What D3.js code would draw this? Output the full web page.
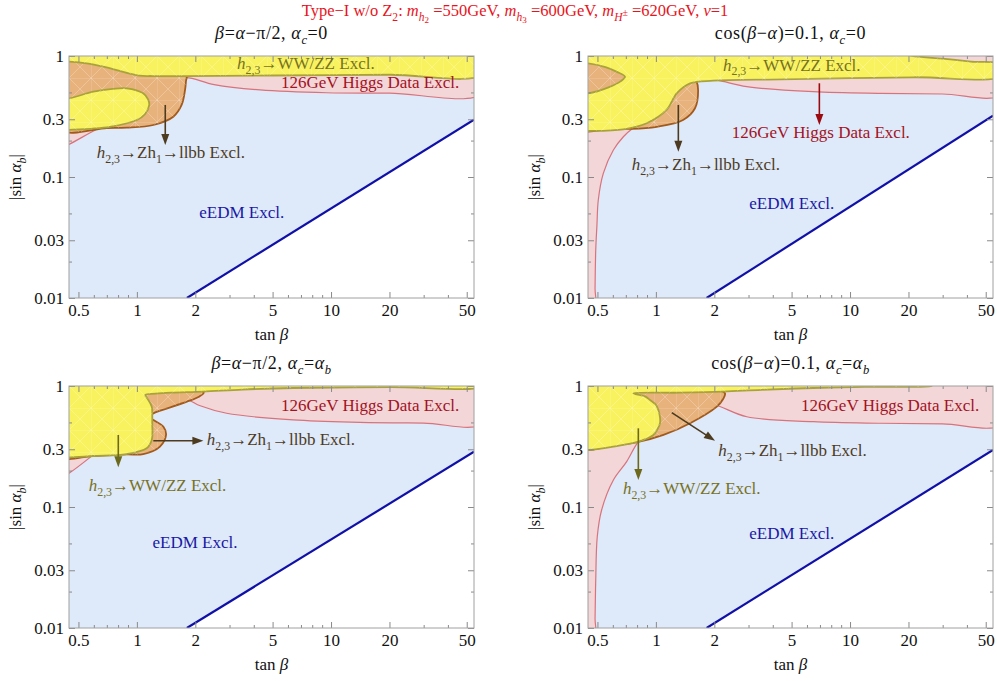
<!DOCTYPE html>
<html>
<head>
<meta charset="utf-8">
<script src="https://cdn.jsdelivr.net/npm/d3@7"></script>
<style>
body { margin: 0; background: #fff; }
text { font-family: "Liberation Serif", "Times New Roman", serif; }
</style>
</head>
<body>
<svg width="997" height="681"></svg>
<script>
// axes (tan beta on x, |sin alpha_b| on y, both log)
var xDomain = [0.447, 54.5];
var yDomain = [0.01, 1];
var xTicks = [0.5, 1, 2, 5, 10, 20, 50];
var xMinor = [0.6, 0.7, 0.8, 0.9, 3, 4, 6, 7, 8, 9, 30, 40];
var yTicks = [0.01, 0.03, 0.1, 0.3, 1];
var yTickLabels = ["0.01", "0.03", "0.1", "0.3", "1"];
var yMinor = [0.02, 0.05, 0.2, 0.5];

// region boundaries, [tan beta, |sin alpha_b|]
// panel 1: beta = alpha - pi/2, alpha_c = 0
var eedm1 = [[1.81, 0.01], [54.5, 0.298]];
var pink1 = [[0.4,0.172],[0.447,0.186],[0.621,0.248],[0.9,0.33],[1.3,0.45],[1.6,0.6],[1.77,0.662],[2.5,0.58],[4.31,0.524],[9.5,0.497],[20,0.494],[60,0.492],[60,1.1],[0.4,1.1]];
var orange1 = [[0.4,0.248],[0.7,0.254],[0.886,0.256],[1.216,0.269],[1.54,0.315],[1.70,0.394],[1.77,0.524],[1.79,0.62],[1.8,0.72],[1.3,0.85],[0.4,0.97]];
var yellowBand1 = [[0.4,1.1],[60,1.1],[60,0.706],[20,0.7],[5,0.69],[1.8,0.683],[1.2,0.683],[1.03,0.688],[0.84,0.742],[0.672,0.816],[0.55,0.87],[0.447,0.897],[0.4,0.9]];
var yellowBlob1 = [[0.4,0.445],[0.447,0.447],[0.596,0.507],[0.75,0.535],[0.886,0.541],[1.077,0.492],[1.14,0.44],[1.158,0.394],[1.1,0.33],[1.0,0.296],[0.726,0.26],[0.447,0.245],[0.4,0.244]];

// panel 2: cos(beta - alpha) = 0.1, alpha_c = 0
var eedm2 = [[1.825, 0.01], [54.5, 0.321]];
var pink2 = [[0.4,0.008],[0.485,0.008],[0.486,0.012],[0.49,0.025],[0.497,0.04],[0.505,0.0645],[0.536,0.107],[0.604,0.167],[0.68,0.215],[0.75,0.248],[1.2,0.38],[1.5,0.55],[1.7,0.66],[2.1,0.628],[2.94,0.558],[6.47,0.507],[14.3,0.491],[30,0.485],[60,0.482],[60,1.1],[0.4,1.1]];
var orange2 = [[0.4,0.92],[0.4,0.25],[0.6,0.252],[0.75,0.25],[1.01,0.26],[1.38,0.296],[1.59,0.37],[1.65,0.524],[1.62,0.613],[1.5,0.7],[0.8,0.88]];
var yellow2 = [[0.4,1.1],[15,1.1],[21.2,1.0],[30,0.95],[42,0.9],[60,0.85],[60,0.684],[21.2,0.667],[4.36,0.641],[1.98,0.625],[1.5,0.594],[1.28,0.491],[1.135,0.358],[0.897,0.278],[0.68,0.248],[0.447,0.24],[0.4,0.24],[0.4,0.491],[0.447,0.491],[0.57,0.55],[0.66,0.62],[0.693,0.675],[0.63,0.74],[0.55,0.81],[0.447,0.87],[0.4,0.87]];

// panel 3: beta = alpha - pi/2, alpha_c = alpha_b
var eedm3 = [[1.81, 0.01], [54.5, 0.286]];
var pink3 = [[0.4,0.172],[0.447,0.19],[0.574,0.257],[0.8,0.4],[1.05,0.6],[1.15,0.7],[1.4,0.71],[1.81,0.77],[2.1,0.69],[2.9,0.595],[6.39,0.524],[14.1,0.501],[30,0.494],[60,0.49],[60,1.1],[0.4,1.1]];
var orange3 = [[0.4,0.262],[0.6,0.265],[0.886,0.272],[1.078,0.274],[1.315,0.316],[1.413,0.394],[1.37,0.461],[1.216,0.524],[1.15,0.56],[1.216,0.594],[1.32,0.625],[1.81,0.742],[2.1,0.82],[2.21,0.88],[2.0,0.94],[1.2,0.95],[0.4,0.95]];
var yellow3 = [[0.4,1.1],[60,1.1],[60,0.995],[20,0.98],[6.39,0.963],[3.5,0.935],[2.2,0.9],[1.5,0.882],[1.25,0.865],[1.105,0.843],[1.131,0.791],[1.193,0.675],[1.2,0.57],[1.2,0.491],[1.193,0.358],[1.123,0.306],[0.886,0.274],[0.596,0.264],[0.447,0.257],[0.4,0.257]];

// panel 4: cos(beta - alpha) = 0.1, alpha_c = alpha_b
var eedm4 = [[1.825, 0.01], [54.5, 0.296]];
var pink4 = [[0.4,0.008],[0.485,0.008],[0.486,0.012],[0.49,0.025],[0.499,0.057],[0.525,0.094],[0.604,0.167],[0.707,0.237],[0.8,0.336],[0.9,0.42],[1.2,0.55],[1.6,0.72],[2.0,0.7],[2.94,0.557],[6.47,0.507],[14.3,0.492],[30,0.486],[60,0.482],[60,1.1],[0.4,1.1]];
var orange4 = [[0.4,0.31],[0.6,0.322],[0.812,0.345],[1.094,0.394],[1.5,0.492],[2.06,0.675],[2.22,0.78],[2.27,0.87],[2.1,0.93],[0.9,0.93],[0.4,0.93]];
var yellow4 = [[0.4,1.1],[20,1.1],[26.4,1.0],[12,0.985],[6.47,0.963],[3.5,0.93],[2.22,0.898],[1.33,0.88],[0.765,0.87],[0.88,0.82],[0.933,0.766],[1.0,0.7],[1.03,0.633],[1.05,0.55],[1.05,0.492],[1.02,0.44],[0.971,0.394],[0.812,0.347],[0.604,0.316],[0.447,0.296],[0.4,0.294]];

// text pieces: [string, style]  style: i = italic, s = sub, ss = sub-sub, su = sup in sub
var mainTitle = [["Type\u2212I w/o Z",""],["2","s"],[": ",""],["m","i"],["h","si"],["2","ss"],[" =550GeV, ",""],["m","i"],["h","si"],["3","ss"],[" =600GeV, ",""],["m","i"],["H","si"],["\u00b1","su"],[" =620GeV, ",""],["\u03bd","i"],["=1",""]];
var title1 = [["\u03b2","i"],["=",""],["\u03b1","i"],["\u2212\u03c0/2, ",""],["\u03b1","i"],["c","si"],["=0",""]];
var title2 = [["cos(",""],["\u03b2","i"],["\u2212",""],["\u03b1","i"],[")=0.1, ",""],["\u03b1","i"],["c","si"],["=0",""]];
var title3 = [["\u03b2","i"],["=",""],["\u03b1","i"],["\u2212\u03c0/2, ",""],["\u03b1","i"],["c","si"],["=",""],["\u03b1","i"],["b","si"]];
var title4 = [["cos(",""],["\u03b2","i"],["\u2212",""],["\u03b1","i"],[")=0.1, ",""],["\u03b1","i"],["c","si"],["=",""],["\u03b1","i"],["b","si"]];
var xTitle = [["tan ",""],["\u03b2","i"]];
var yTitle = [["|sin ",""],["\u03b1","i"],["b","si"],["|",""]];
var wwText = [["h","i"],["2,3","s"],["\u2192WW/ZZ Excl.",""]];
var zhText = [["h","i"],["2,3","s"],["\u2192Zh",""],["1","s"],["\u2192llbb Excl.",""]];
var higgsText = [["126GeV Higgs Data Excl.",""]];
var eedmText = [["eEDM Excl.",""]];

var cBlue = "#dee9f9", cLine = "#1010a8", cEdmText = "#1818a4";
var cPink = "#f3d6d8", cPinkEdge = "#d8737b", cHiggsText = "#a3121f", cHiggsArrow = "#9a0a0f";
var cYellow = "#f8f25e", cYellowEdge = "#a9a23a", cWWText = "#77721f", cWWArrow = "#6c681c";
var cOrange = "#e7b27c", cOrangeEdge = "#a25a1c", cZhText = "#4d3b1f", cZhArrow = "#4d3b1f";

// annotations, positioned in data coordinates (baseline of text)
var labels1 = [
  {parts: wwText, t: 7.42, s: 0.776, color: cWWText},
  {parts: higgsText, t: 15.9, s: 0.541, color: cHiggsText},
  {parts: zhText, t: 1.496, s: 0.143, color: cZhText},
  {parts: eedmText, t: 3.47, s: 0.0456, color: cEdmText}
];
var arrows1 = [{from: [1.40, 0.394], to: [1.40, 0.184], color: cZhArrow}];
var labels2 = [
  {parts: wwText, t: 5.01, s: 0.756, color: cWWText},
  {parts: higgsText, t: 7.07, s: 0.209, color: cHiggsText},
  {parts: zhText, t: 1.808, s: 0.114, color: cZhText},
  {parts: eedmText, t: 5.01, s: 0.0541, color: cEdmText}
];
var arrows2 = [
  {from: [6.95, 0.595], to: [6.95, 0.269], color: cHiggsArrow},
  {from: [1.305, 0.394], to: [1.305, 0.162], color: cZhArrow}
];
var labels3 = [
  {parts: higgsText, t: 15.9, s: 0.625, color: cHiggsText},
  {parts: zhText, t: 2.29, s: 0.3253, color: cZhText, anchor: "start"},
  {parts: wwText, t: 1.277, s: 0.1357, color: cWWText},
  {parts: eedmText, t: 1.992, s: 0.0461, color: cEdmText}
];
var arrows3 = [
  {from: [1.215, 0.353], to: [2.2, 0.353], color: cZhArrow},
  {from: [0.802, 0.394], to: [0.802, 0.213], color: cWWArrow}
];
var labels4 = [
  {parts: higgsText, t: 16.1, s: 0.625, color: cHiggsText},
  {parts: zhText, t: 2.097, s: 0.264, color: cZhText, anchor: "start"},
  {parts: wwText, t: 1.53, s: 0.128, color: cWWText},
  {parts: eedmText, t: 5.01, s: 0.0541, color: cEdmText}
];
var arrows4 = [
  {from: [1.207, 0.602], to: [2.016, 0.353], color: cZhArrow},
  {from: [0.812, 0.447], to: [0.812, 0.167], color: cWWArrow}
];

var panels = [
  {x0: 69, y0: 56, title: title1, eedm: eedm1, pink: pink1, orange: orange1, yellow: [yellowBand1, yellowBlob1], labels: labels1, arrows: arrows1},
  {x0: 588, y0: 56, title: title2, eedm: eedm2, pink: pink2, orange: orange2, yellow: [yellow2], labels: labels2, arrows: arrows2},
  {x0: 69, y0: 386, title: title3, eedm: eedm3, pink: pink3, orange: orange3, yellow: [yellow3], labels: labels3, arrows: arrows3},
  {x0: 588, y0: 386, title: title4, eedm: eedm4, pink: pink4, orange: orange4, yellow: [yellow4], labels: labels4, arrows: arrows4}
];

var W = 405, H = 242;
var svg = d3.select("svg");
var defs = svg.append("defs");

// faint triangulation mesh seen inside the filled regions
var pat = defs.append("pattern").attr("id", "mesh")
  .attr("patternUnits", "userSpaceOnUse").attr("width", 22).attr("height", 22);
pat.append("path")
  .attr("d", "M0,0H22M0,0V22M0,0L22,22M22,0L0,22")
  .attr("stroke", "#fff").attr("stroke-opacity", 0.3).attr("stroke-width", 0.8);

function rich(sel, parts, fs) {
  var off = {"": 0, s: 0.28, ss: 0.45, su: 0.0};
  var size = {"": 1, s: 0.7, ss: 0.55, su: 0.6};
  var cur = 0;
  parts.forEach(function(p) {
    var lv = p[1].replace("i", "");
    var o = off[lv] * fs;
    sel.append("tspan")
      .attr("dy", o - cur)
      .attr("font-size", size[lv] * fs)
      .attr("font-style", p[1].indexOf("i") >= 0 ? "italic" : null)
      .text(p[0]);
    cur = o;
  });
  return sel;
}

rich(svg.append("text").attr("x", 515).attr("y", 16).attr("text-anchor", "middle")
  .attr("font-size", 16.5).attr("fill", "#e8141c"), mainTitle, 16.5);

panels.forEach(function(p, i) {
  var x = d3.scaleLog().domain(xDomain).range([0, W]);
  var y = d3.scaleLog().domain(yDomain).range([H, 0]);
  var g = svg.append("g").attr("transform", "translate(" + p.x0 + "," + p.y0 + ")");

  defs.append("clipPath").attr("id", "clip" + i)
    .append("rect").attr("width", W).attr("height", H);
  var plot = g.append("g").attr("clip-path", "url(#clip" + i + ")");

  var smooth = d3.line().x(function(d) { return x(d[0]); }).y(function(d) { return y(d[1]); })
    .curve(d3.curveCatmullRomClosed.alpha(0.5));
  var straight = d3.line().x(function(d) { return x(d[0]); }).y(function(d) { return y(d[1]); });

  // eEDM excluded: everything above the eEDM line
  var blue = [[xDomain[0], yDomain[0]]].concat(p.eedm, [[xDomain[1], yDomain[1]], [xDomain[0], yDomain[1]]]);
  plot.append("path").attr("d", straight(blue) + "Z").attr("fill", cBlue);

  plot.append("path").attr("d", smooth(p.pink))
    .attr("fill", cPink).attr("stroke", cPinkEdge).attr("stroke-width", 1.2);

  plot.append("path").attr("d", smooth(p.orange))
    .attr("fill", cOrange).attr("stroke", cOrangeEdge).attr("stroke-width", 1.8);
  plot.append("path").attr("d", smooth(p.orange)).attr("fill", "url(#mesh)");

  p.yellow.forEach(function(r) {
    plot.append("path").attr("d", smooth(r))
      .attr("fill", cYellow).attr("stroke", cYellowEdge).attr("stroke-width", 1.8);
    plot.append("path").attr("d", smooth(r)).attr("fill", "url(#mesh)");
  });

  plot.append("path").attr("d", straight(p.eedm))
    .attr("fill", "none").attr("stroke", cLine).attr("stroke-width", 2.2);

  // frame ticks on all four sides
  function style(a) {
    a.select(".domain").remove();
    a.selectAll("line").attr("stroke", "#8a8a8a");
    a.attr("font-size", 17);
    a.selectAll("text").attr("fill", "#111");
  }
  g.append("g").attr("transform", "translate(0," + H + ")")
    .call(d3.axisBottom(x).tickValues(xTicks).tickFormat(d3.format("")).tickSize(-6).tickPadding(6)).call(style);
  g.append("g").attr("transform", "translate(0," + H + ")")
    .call(d3.axisBottom(x).tickValues(xMinor).tickFormat("").tickSize(-3)).call(style);
  g.append("g").call(d3.axisTop(x).tickValues(xTicks).tickFormat("").tickSize(-6)).call(style);
  g.append("g").call(d3.axisTop(x).tickValues(xMinor).tickFormat("").tickSize(-3)).call(style);
  g.append("g")
    .call(d3.axisLeft(y).tickValues(yTicks).tickFormat(function(d, k) { return yTickLabels[k]; }).tickSize(-6).tickPadding(5)).call(style);
  g.append("g").call(d3.axisLeft(y).tickValues(yMinor).tickFormat("").tickSize(-3)).call(style);
  g.append("g").attr("transform", "translate(" + W + ",0)")
    .call(d3.axisRight(y).tickValues(yTicks).tickFormat("").tickSize(-6)).call(style);
  g.append("g").attr("transform", "translate(" + W + ",0)")
    .call(d3.axisRight(y).tickValues(yMinor).tickFormat("").tickSize(-3)).call(style);

  g.append("rect").attr("width", W).attr("height", H)
    .attr("fill", "none").attr("stroke", "#a0a0a0").attr("stroke-width", 1);

  rich(g.append("text").attr("x", W / 2).attr("y", -17).attr("text-anchor", "middle")
    .attr("font-size", 18).attr("letter-spacing", 0.6).attr("fill", "#111"), p.title, 18);
  rich(g.append("text").attr("x", W / 2).attr("y", H + 42).attr("text-anchor", "middle")
    .attr("font-size", 17).attr("fill", "#111"), xTitle, 17);
  rich(g.append("text").attr("transform", "translate(-48," + (H / 2) + ") rotate(-90)")
    .attr("text-anchor", "middle").attr("font-size", 17).attr("fill", "#111"), yTitle, 17);

  // arrows
  p.arrows.forEach(function(a) {
    var x1 = x(a.from[0]), y1 = y(a.from[1]), x2 = x(a.to[0]), y2 = y(a.to[1]);
    var len = Math.hypot(x2 - x1, y2 - y1), ux = (x2 - x1) / len, uy = (y2 - y1) / len;
    var L = 11, Wh = 4;
    var bx = x2 - ux * L, by = y2 - uy * L;
    g.append("line").attr("x1", x1).attr("y1", y1).attr("x2", bx + ux * 2).attr("y2", by + uy * 2)
      .attr("stroke", a.color).attr("stroke-width", 1.6);
    g.append("path")
      .attr("d", "M" + x2 + "," + y2 + "L" + (bx - uy * Wh) + "," + (by + ux * Wh) +
        "L" + (bx + uy * Wh) + "," + (by - ux * Wh) + "Z")
      .attr("fill", a.color);
  });

  p.labels.forEach(function(l) {
    rich(g.append("text").attr("x", x(l.t)).attr("y", y(l.s))
      .attr("text-anchor", l.anchor || "middle").attr("font-size", 17).attr("fill", l.color), l.parts, 17);
  });
});
</script>
</body>
</html>
